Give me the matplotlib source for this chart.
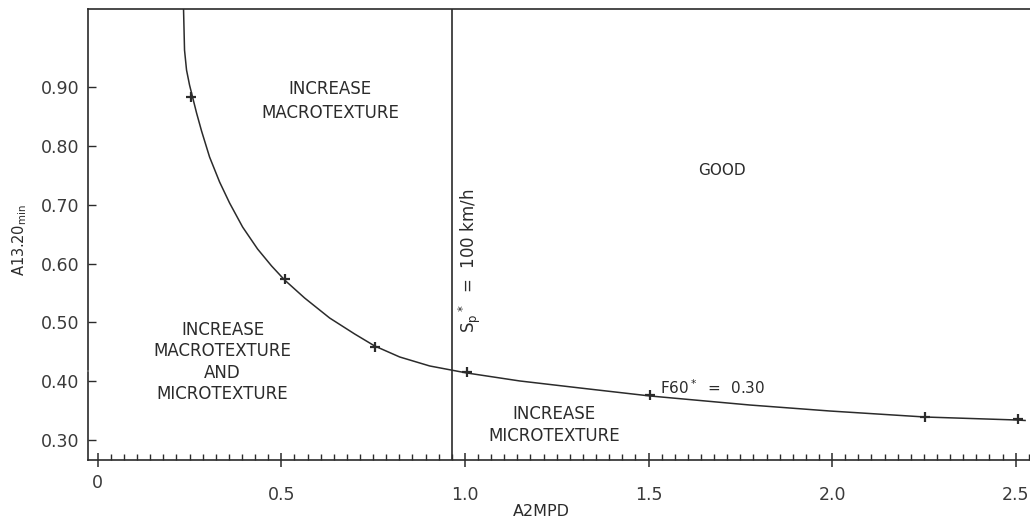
import matplotlib
matplotlib.use("Agg")
import matplotlib.pyplot as plt
import matplotlib.transforms as mtransforms
from matplotlib.ticker import MultipleLocator, FixedLocator

# curve F60* = 0.30
curve_x = [0.2336, 0.2363, 0.2418, 0.2500, 0.2582, 0.2691, 0.2827, 0.3045, 0.3318,
           0.3590, 0.3945, 0.4353, 0.4735, 0.5089, 0.5634, 0.6315, 0.6997, 0.7542,
           0.8223, 0.9041, 1.0049, 1.1494, 1.3129, 1.5035, 1.7761, 1.9941, 2.2531,
           2.5038, 2.5256]
curve_y = [1.033, 0.9631, 0.9291, 0.9036, 0.8832, 0.8561, 0.8255, 0.7813, 0.7388,
           0.7031, 0.6622, 0.6248, 0.5959, 0.5721, 0.5415, 0.5075, 0.4803, 0.4599,
           0.4412, 0.4259, 0.4140, 0.4004, 0.3885, 0.3749, 0.3595, 0.3493, 0.3391,
           0.3340, 0.3332]

# measured points on the curve
pts_x = [0.255, 0.509, 0.755, 1.005, 1.504, 2.254, 2.505]
pts_y = [0.884, 0.573, 0.458, 0.416, 0.376, 0.339, 0.335]

sp_line = 0.965  # Sp* = 100 km/h

x_ticks = [0, 0.5, 1.0, 1.5, 2.0, 2.5]
x_labels = ["0", "0.5", "1.0", "1.5", "2.0", "2.5"]
y_ticks = [0.30, 0.40, 0.50, 0.60, 0.70, 0.80, 0.90]
y_labels = ["0.30", "0.40", "0.50", "0.60", "0.70", "0.80", "0.90"]

ink = "#2b2b2b"
plt.rcParams["font.family"] = ["DejaVu Sans"]

fig = plt.figure(figsize=(10.3, 5.21), dpi=100)
ax = fig.add_axes([0.0854, 0.1171, 0.9146, 0.8656])

ax.plot(curve_x, curve_y, color=ink, lw=1.1, zorder=3)
ax.plot(pts_x, pts_y, "+", color=ink, ms=6.5, mew=1.6, zorder=4)
ax.axvline(sp_line, color=ink, lw=1.2)

ax.set_xlim(-0.0267, 2.539)
ax.set_ylim(0.266, 1.033)

# frame: top and bottom lines, left line with a small break
for s in ["right", "left"]:
    ax.spines[s].set_visible(False)
for s in ["top", "bottom"]:
    ax.spines[s].set_color(ink)
    ax.spines[s].set_linewidth(1.2)
ax.plot([0, 0], [0, 0.195], transform=ax.transAxes, color=ink, lw=1.2, clip_on=False)
ax.plot([0, 0], [0.2, 1], transform=ax.transAxes, color=ink, lw=1.2, clip_on=False)

ax.xaxis.set_major_locator(FixedLocator(x_ticks))
ax.set_xticklabels(x_labels)
ax.xaxis.set_minor_locator(MultipleLocator(0.5 / 14))
ax.tick_params(axis="x", which="major", direction="inout", length=10, width=1.1,
               color=ink, labelsize=12.5, labelcolor="#3a3a3a", pad=14)
ax.tick_params(axis="x", which="minor", direction="in", length=4.5, width=1.0, color=ink)

ax.set_yticks(y_ticks)
ax.set_yticklabels(y_labels)
ax.tick_params(axis="y", which="major", direction="in", length=6, width=1.0,
               color=ink, labelsize=12.5, labelcolor="#3a3a3a", pad=6)

# the "0" label sits higher in the original
zero = ax.get_xticklabels()[0]
zero.set_transform(zero.get_transform() +
                   mtransforms.ScaledTranslation(0, 9 / 72, fig.dpi_scale_trans))

ax.set_xlabel("A2MPD", fontsize=11.5, color=ink, va="center")
ax.xaxis.set_label_coords(0.481, -0.115)
ax.set_ylabel(r"A13.20$_{\rm min}$", fontsize=10.5, color=ink, va="center")
ax.yaxis.set_label_coords(-0.0727, 0.488)

tk = dict(color=ink, fontsize=12, ha="center", va="center")
ax.text(0.632, 0.876, "INCREASE\nMACROTEXTURE", linespacing=1.45, **tk)
ax.text(1.7, 0.758, "GOOD", fontsize=11, color=ink, ha="center", va="center")
ax.text(0.34, 0.4327, "INCREASE\nMACROTEXTURE\nAND\nMICROTEXTURE", linespacing=1.26, **tk)
ax.text(1.242, 0.3255, "INCREASE\nMICROTEXTURE", linespacing=1.32, **tk)
ax.text(1.013, 0.605, r"S$_{\rm p}$$^*$  =  100 km/h", rotation=90, **tk)
ax.text(1.53, 0.373, r"F60$^*$  =  0.30", color=ink, fontsize=11, ha="left", va="bottom")

fig.savefig("out.png", dpi=100)
